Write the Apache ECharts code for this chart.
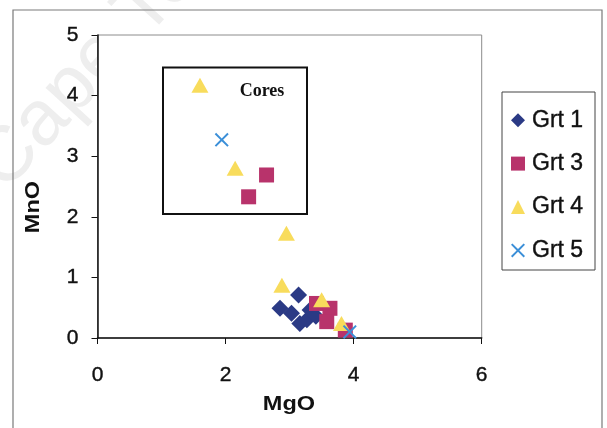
<!DOCTYPE html>
<html>
<head>
<meta charset="utf-8">
<script src="https://cdn.jsdelivr.net/npm/echarts@6/dist/echarts.min.js"></script>
<style>
  html, body { margin: 0; padding: 0; background: #fff; }
  #chart { width: 607px; height: 428px; }
</style>
</head>
<body>
<div id="chart"></div>
<script>
// Garnet compositions, MgO vs MnO (wt%)
const seriesNames = ['Grt 1', 'Grt 3', 'Grt 4', 'Grt 5'];

const grt1 = [
  [2.85, 0.49], [3.14, 0.71], [3.03, 0.41], [3.16, 0.24],
  [3.27, 0.30], [3.32, 0.46], [3.41, 0.36]
];
const grt3 = [
  [2.64, 2.69], [2.36, 2.33],
  [3.42, 0.57], [3.63, 0.49], [3.58, 0.27], [3.87, 0.13]
];
const grt4 = [
  [1.60, 4.17], [2.15, 2.80], [2.95, 1.73],
  [2.88, 0.87], [3.50, 0.63], [3.81, 0.24]
];
const grt5 = [
  [1.94, 3.27], [3.94, 0.10]
];

const xTicks = [0, 2, 4, 6];
const yTicks = [0, 1, 2, 3, 4, 5];

const FONT = '"Liberation Sans", Arial, sans-serif';
const crossPath = 'path://M0,2 L2,0 L10,8 L18,0 L20,2 L12,10 L20,18 L18,20 L10,12 L2,20 L0,18 L8,10 Z';

const styles = [
  { symbol: 'diamond', size: 17, color: '#2b3a85' },
  { symbol: 'rect', size: 15, color: '#b8336b' },
  { symbol: 'triangle', size: [17, 15], color: '#f8dc5c' },
  { symbol: crossPath, size: 14, color: '#3b8fd8' }
];
const datasets = [grt1, grt3, grt4, grt5];

// slightly heavier strokes on the regular-weight labels
const labelInk = { color: '#111', textBorderColor: '#111', textBorderWidth: 0.4 };

const chart = echarts.init(document.getElementById('chart'), null, { renderer: 'canvas' });

const option = {
  animation: false,
  backgroundColor: '#fff',
  grid: {
    left: 97.5, top: 35, right: 125.3, bottom: 90,
    show: true, borderColor: '#8c8c8c', borderWidth: 1, backgroundColor: '#fff'
  },
  xAxis: {
    type: 'value', min: xTicks[0], max: xTicks[xTicks.length - 1], interval: 2,
    axisLine: { show: true, onZero: false, lineStyle: { color: '#111', width: 1.5 } },
    axisTick: { show: true, inside: false, length: 6, lineStyle: { color: '#111' } },
    axisLabel: Object.assign({ fontSize: 21, fontFamily: FONT, margin: 27 }, labelInk),
    splitLine: { show: false }
  },
  yAxis: {
    type: 'value', min: yTicks[0], max: yTicks[yTicks.length - 1], interval: 1,
    axisLine: { show: true, onZero: false, lineStyle: { color: '#111', width: 1.5 } },
    axisTick: { show: true, inside: false, length: 6, lineStyle: { color: '#111' } },
    axisLabel: Object.assign({ fontSize: 21, fontFamily: FONT, margin: 19 }, labelInk),
    splitLine: { show: false }
  },
  legend: {
    orient: 'vertical',
    left: 506, top: 103.5,
    itemGap: 20,
    itemWidth: 14, itemHeight: 14,
    textStyle: Object.assign({ fontSize: 23, fontFamily: FONT, padding: [0, 0, 0, 2] }, labelInk),
    data: seriesNames.map((n, i) => ({ name: n, icon: styles[i].symbol }))
  },
  series: seriesNames.map((name, i) => ({
    name,
    type: 'scatter',
    symbol: styles[i].symbol,
    symbolSize: styles[i].size,
    itemStyle: { color: styles[i].color, opacity: 1 },
    data: datasets[i],
    z: 3 + i
  })),
  graphic: [
    // faint diagonal watermark behind everything
    {
      type: 'text', x: 18, y: 205, rotation: 0.83, z: -10, silent: true,
      style: { text: 'Cape Town', fill: '#eeeeee', font: '78px "Liberation Sans", Arial, sans-serif',
               textAlign: 'left', textVerticalAlign: 'bottom' }
    },
    // outer chart frame
    {
      type: 'rect', z: -5, silent: true,
      shape: { x: 13, y: 10, width: 589, height: 430 },
      style: { fill: null, stroke: '#7a7a7a', lineWidth: 1.2 }
    },
    // axis titles
    {
      type: 'text', x: 289, y: 404, z: 10, scaleX: 1.12,
      style: { text: 'MgO', fill: '#111', font: 'bold 21px "Liberation Sans", Arial, sans-serif',
               textAlign: 'center', textVerticalAlign: 'middle' }
    },
    {
      type: 'text', x: 33, y: 207, rotation: Math.PI / 2, z: 10, scaleX: 1.12,
      style: { text: 'MnO', fill: '#111', font: 'bold 21px "Liberation Sans", Arial, sans-serif',
               textAlign: 'center', textVerticalAlign: 'middle' }
    },
    // box around the core analyses
    {
      type: 'rect', z: 2, silent: true,
      shape: { x: 163, y: 67.5, width: 144, height: 146.5 },
      style: { fill: null, stroke: '#111', lineWidth: 2 }
    },
    {
      type: 'text', x: 262, y: 91, z: 10,
      style: { text: 'Cores', fill: '#111', font: 'bold 18px "Liberation Serif", "Times New Roman", serif',
               textAlign: 'center', textVerticalAlign: 'middle' }
    },
    // legend frame
    {
      type: 'rect', z: 1, silent: true,
      shape: { x: 502, y: 92, width: 93, height: 178 },
      style: { fill: '#fff', stroke: '#444', lineWidth: 1 }
    }
  ]
};

chart.setOption(option);
</script>
</body>
</html>
